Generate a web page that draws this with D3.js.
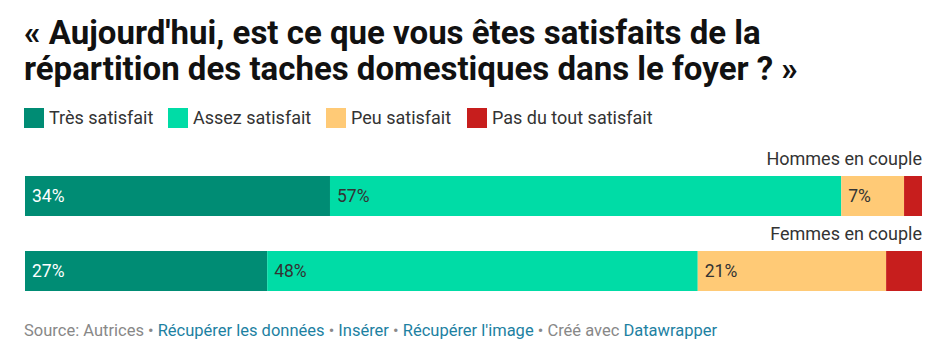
<!DOCTYPE html>
<html>
<head>
<meta charset="utf-8">
<script src="https://cdn.jsdelivr.net/npm/d3@7"></script>
<style>
  body { margin: 0; background: #fff; font-family: Roboto, sans-serif; }
  svg text { font-family: Roboto, sans-serif; }
</style>
</head>
<body>
<svg id="canvas"></svg>
<script>
const categories = ["Très satisfait", "Assez satisfait", "Peu satisfait", "Pas du tout satisfait"];
const colors = ["#008c74", "#00dca6", "#ffca76", "#c71e1d"];
const groups = ["Hommes en couple", "Femmes en couple"];
const hommes = [34, 57, 7, 2];
const femmes = [27, 48, 21, 4];
const labelColors = ["#fff", "#333", "#333", "#fff"];

const width = 943;
const height = 358;

const svg = d3.select("#canvas").attr("width", width).attr("height", height);

// titre
const title = svg.append("text")
  .attr("x", 24)
  .attr("font-size", 33)
  .attr("font-weight", 700)
  .attr("fill", "#111");
title.append("tspan").attr("x", 24).attr("y", 44).text("« Aujourd'hui, est ce que vous êtes satisfaits de la");
title.append("tspan").attr("x", 24).attr("y", 80).text("répartition des taches domestiques dans le foyer ? »");

// légende
const legendX = [24, 168, 326, 467];
const legend = svg.selectAll("g.legend")
  .data(categories)
  .enter()
  .append("g")
  .attr("class", "legend")
  .attr("transform", (d, i) => `translate(${legendX[i]},108)`);

legend.append("rect")
  .attr("width", 20)
  .attr("height", 20)
  .attr("fill", (d, i) => colors[i]);

legend.append("text")
  .attr("x", 25)
  .attr("y", 15.5)
  .attr("font-size", 18)
  .attr("fill", "#333")
  .text(d => d);

// barres
const x = d3.scaleLinear().domain([0, 100]).range([25, 922]);
const y = d3.scaleBand().domain(groups).range([148, 298]).paddingInner(0).paddingOuter(0);

const rows = [hommes, femmes].map((vals, gi) => {
  let acc = 0;
  return vals.map((v, i) => {
    const seg = { group: groups[gi], cat: i, value: v, x0: acc, x1: acc + v };
    acc += v;
    return seg;
  });
});

const rowG = svg.selectAll("g.row")
  .data(rows)
  .enter()
  .append("g")
  .attr("class", "row")
  .attr("transform", (d, i) => `translate(0,${y(groups[i])})`);

rowG.append("text")
  .attr("x", 922)
  .attr("y", 17)
  .attr("text-anchor", "end")
  .attr("font-size", 18)
  .attr("fill", "#333")
  .text((d, i) => groups[i]);

const seg = rowG.selectAll("g.seg")
  .data(d => d)
  .enter()
  .append("g")
  .attr("class", "seg");

seg.append("rect")
  .attr("x", d => x(d.x0))
  .attr("y", 28)
  .attr("width", d => x(d.x1) - x(d.x0))
  .attr("height", 40)
  .attr("fill", d => colors[d.cat]);

seg.filter(d => d.value >= 5)
  .append("text")
  .attr("x", d => x(d.x0) + 7)
  .attr("y", 54)
  .attr("font-size", 17.5)
  .attr("fill", d => labelColors[d.cat])
  .text(d => d.value + "%");

// pied
const foot = svg.append("text")
  .attr("x", 24)
  .attr("y", 336)
  .attr("font-size", 16.5);
const footParts = [
  ["Source: Autrices", "#888"],
  [" • ", "#888"],
  ["Récupérer les données", "#1d81a2"],
  [" • ", "#888"],
  ["Insérer", "#1d81a2"],
  [" • ", "#888"],
  ["Récupérer l'image", "#1d81a2"],
  [" • Créé avec ", "#888"],
  ["Datawrapper", "#1d81a2"]
];
foot.selectAll("tspan")
  .data(footParts)
  .enter()
  .append("tspan")
  .attr("fill", d => d[1])
  .text(d => d[0]);
</script>
</body>
</html>
